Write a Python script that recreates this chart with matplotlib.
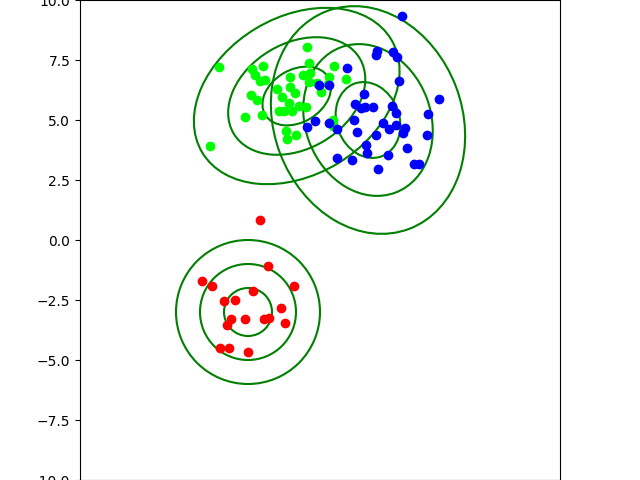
import numpy as np
import matplotlib
matplotlib.use("Agg")
import matplotlib.pyplot as plt
from matplotlib.patches import Ellipse

red_x = [-2.50, -2.17, -4.92, -4.50, -1.08, -2.78, -4.00, -3.53, -1.61, -3.69,
         -3.11, -2.33, -2.11, -3.89, -1.46, -4.17, -3.80, -3.00]
red_y = [0.82, -1.08, -1.71, -1.93, -1.93, -2.13, -2.54, -2.50, -2.85, -3.31,
         -3.29, -3.29, -3.26, -3.53, -3.47, -4.49, -4.50, -4.68]

green_x = [-4.20, -4.58, -0.53, -2.83, -2.39, -2.71, -2.50, -2.28, -2.86, -2.61,
           -3.11, -2.42, -1.80, -1.58, -1.25, -1.25, -1.03, -1.30, -1.70, -1.50,
           -1.18, -0.86, -0.58, -0.70, -0.45, -0.42, -0.47, -0.11, 0.03, 0.39,
           0.58, 1.08, -1.42, -1.39, -1.01, 0.55, 0.55, 0.33]
green_y = [7.22, 3.92, 8.03, 7.13, 7.25, 6.88, 6.63, 6.67, 6.04, 5.83,
           5.11, 5.20, 6.28, 5.97, 6.78, 6.39, 6.11, 5.72, 5.39, 5.39,
           5.36, 5.58, 5.53, 6.89, 7.36, 6.97, 6.58, 6.53, 6.18, 6.78,
           7.25, 6.72, 4.55, 4.20, 4.38, 5.00, 4.75, 6.50]

blue_x = [3.40, 2.39, 2.33, 3.05, 3.22, 1.14, -0.03, 0.39, 3.30, 4.97,
          1.83, 1.46, 1.70, 1.88, 2.22, 2.99, 3.17, 4.50, 1.42, -0.21,
          -0.53, 0.39, 0.70, 1.55, 2.61, 2.89, 3.17, 3.54, 3.47, 2.33,
          4.45, 1.92, 3.64, 1.97, 2.85, 0.70, 1.35, 3.92, 4.14, 2.43]
blue_y = [9.33, 7.89, 7.70, 7.85, 7.64, 7.15, 6.46, 6.46, 6.61, 5.86,
          6.08, 5.67, 5.49, 5.53, 5.53, 5.58, 5.30, 5.24, 5.00, 4.95,
          4.70, 4.86, 4.61, 4.51, 4.86, 4.61, 4.79, 4.65, 4.47, 4.36,
          4.38, 3.95, 3.82, 3.61, 3.54, 3.42, 3.32, 3.17, 3.17, 2.95]

means = [(-3.0, -3.0), (-0.97, 6.0), (2.0, 5.0)]
covs = [[[1.0, 0.0], [0.0, 1.0]],
        [[2.04, 0.5], [0.5, 1.5]],
        [[1.82, -0.3], [-0.3, 2.5]]]

fig = plt.figure(figsize=(6.4, 4.8), dpi=100)
ax = fig.add_subplot(111)
fig.subplots_adjust(left=0, right=1, bottom=0, top=1)

for mu, cov in zip(means, covs):
    cov = np.array(cov)
    vals, vecs = np.linalg.eigh(cov)
    angle = np.degrees(np.arctan2(vecs[1, 1], vecs[0, 1]))
    for n in (1, 2, 3):
        e = Ellipse(mu, 2 * n * np.sqrt(vals[1]), 2 * n * np.sqrt(vals[0]),
                    angle=angle, fill=False, edgecolor='green', lw=1.5, zorder=1)
        ax.add_patch(e)

ax.scatter(red_x, red_y, c='red', zorder=2)
ax.scatter(green_x, green_y, c='lime', zorder=2)
ax.scatter(blue_x, blue_y, c='blue', zorder=2)

ax.set_xlim(-10, 10)
ax.set_ylim(-10, 10)
ax.set_aspect('equal')
fig.savefig('out.png', dpi=100)
